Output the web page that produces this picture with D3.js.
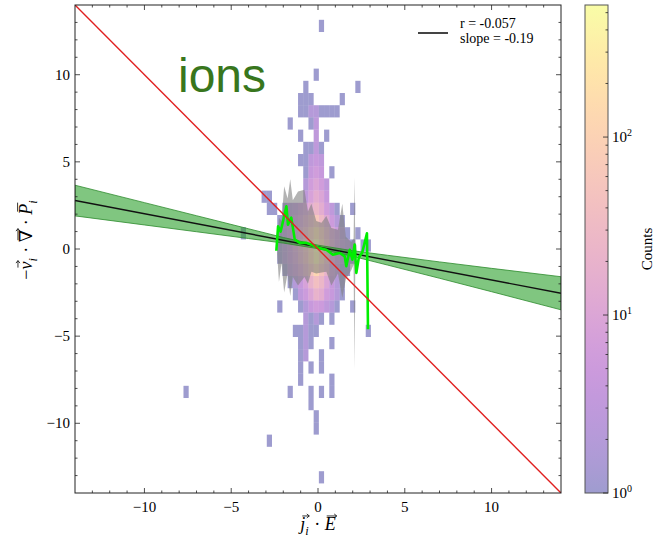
<!DOCTYPE html>
<html>
<head>
<meta charset="utf-8">
<script src="https://cdn.jsdelivr.net/npm/d3@7"></script>
<style>
body { margin: 0; background: #fff; }
text { font-family: "Liberation Serif", "DejaVu Serif", serif; }
</style>
</head>
<body>
<div id="chart"></div>
<script>
// 2d histogram cells, [x centre, y centre, count]
const histCells = [
  [0.2, 12.8, 1], [-0.1, 10.0, 1], [-0.7, 9.3, 1], [2.3, 9.3, 1],
  [-1.0, 8.6, 1], [-0.7, 8.6, 1], [-0.4, 8.6, 1], [1.4, 8.6, 1],
  [-1.0, 7.9, 1], [-0.7, 7.9, 1], [-0.4, 7.9, 2], [-0.1, 7.9, 2], [0.2, 7.9, 1], [0.5, 7.9, 1], [0.8, 7.9, 1], [1.1, 7.9, 1],
  [-1.6, 7.2, 1], [-0.4, 7.2, 1], [-0.1, 7.2, 3],
  [-1.0, 6.5, 1], [-0.1, 6.5, 3], [0.5, 6.5, 1],
  [-0.7, 5.8, 1], [-0.4, 5.8, 1], [-0.1, 5.8, 3], [0.2, 5.8, 1],
  [-1.0, 5.1, 1], [-0.7, 5.1, 1], [-0.4, 5.1, 3], [-0.1, 5.1, 4], [0.2, 5.1, 3],
  [-0.7, 4.4, 1], [-0.4, 4.4, 4], [-0.1, 4.4, 6], [0.2, 4.4, 4], [0.8, 4.4, 1],
  [-0.7, 3.7, 2], [-0.4, 3.7, 6], [-0.1, 3.7, 10], [0.2, 3.7, 6], [0.5, 3.7, 3],
  [-3.1, 3.0, 1], [-2.8, 3.0, 1], [-0.7, 3.0, 3], [-0.4, 3.0, 8], [-0.1, 3.0, 15], [0.2, 3.0, 10], [0.5, 3.0, 4],
  [-2.8, 2.3, 1], [-2.5, 2.3, 1], [-1.9, 2.3, 1], [-1.6, 2.3, 2], [-1.3, 2.3, 3], [-1.0, 2.3, 5], [-0.7, 2.3, 8], [-0.4, 2.3, 15],
  [-0.1, 2.3, 25], [0.2, 2.3, 15], [0.5, 2.3, 6], [0.8, 2.3, 3], [1.1, 2.3, 1], [2.0, 2.3, 1],
  [-2.2, 1.6, 1], [-1.9, 1.6, 2], [-1.6, 1.6, 3], [-1.3, 1.6, 5], [-1.0, 1.6, 8], [-0.7, 1.6, 15], [-0.4, 1.6, 30],
  [-0.1, 1.6, 60], [0.2, 1.6, 30], [0.5, 1.6, 12], [0.8, 1.6, 5], [1.1, 1.6, 2], [1.4, 1.6, 1],
  [-4.3, 0.9, 1], [-2.2, 0.9, 1], [-1.9, 0.9, 2], [-1.6, 0.9, 4], [-1.3, 0.9, 8], [-1.0, 0.9, 15], [-0.7, 0.9, 30], [-0.4, 0.9, 80],
  [-0.1, 0.9, 200], [0.2, 0.9, 80], [0.5, 0.9, 25], [0.8, 0.9, 10], [1.1, 0.9, 5], [1.4, 0.9, 2], [1.7, 0.9, 1], [2.3, 0.9, 1],
  [-2.2, 0.2, 1], [-1.9, 0.2, 2], [-1.6, 0.2, 4], [-1.3, 0.2, 10], [-1.0, 0.2, 20], [-0.7, 0.2, 50], [-0.4, 0.2, 150],
  [-0.1, 0.2, 550], [0.2, 0.2, 150], [0.5, 0.2, 40], [0.8, 0.2, 12], [1.1, 0.2, 5], [1.4, 0.2, 3], [1.7, 0.2, 2],
  [2.0, 0.2, 1], [2.6, 0.2, 1], [2.9, 0.2, 1],
  [-2.2, -0.5, 1], [-1.9, -0.5, 2], [-1.6, -0.5, 4], [-1.3, -0.5, 8], [-1.0, -0.5, 18], [-0.7, -0.5, 40], [-0.4, -0.5, 120],
  [-0.1, -0.5, 400], [0.2, -0.5, 120], [0.5, -0.5, 35], [0.8, -0.5, 10], [1.1, -0.5, 4], [1.4, -0.5, 2], [1.7, -0.5, 1], [2.0, -0.5, 1],
  [-1.9, -1.2, 1], [-1.6, -1.2, 3], [-1.3, -1.2, 5], [-1.0, -1.2, 10], [-0.7, -1.2, 20], [-0.4, -1.2, 50],
  [-0.1, -1.2, 120], [0.2, -1.2, 50], [0.5, -1.2, 20], [0.8, -1.2, 6], [1.1, -1.2, 3], [1.4, -1.2, 1], [1.7, -1.2, 1],
  [-1.6, -1.9, 1], [-1.3, -1.9, 2], [-1.0, -1.9, 4], [-0.7, -1.9, 8], [-0.4, -1.9, 20], [-0.1, -1.9, 40],
  [0.2, -1.9, 25], [0.5, -1.9, 10], [0.8, -1.9, 4], [1.1, -1.9, 2], [1.4, -1.9, 1],
  [-1.3, -2.6, 1], [-1.0, -2.6, 3], [-0.7, -2.6, 5], [-0.4, -2.6, 10], [-0.1, -2.6, 20], [0.2, -2.6, 15],
  [0.5, -2.6, 6], [0.8, -2.6, 4], [1.1, -2.6, 2], [1.4, -2.6, 1],
  [-2.2, -3.3, 1], [-1.0, -3.3, 1], [-0.7, -3.3, 2], [-0.4, -3.3, 4], [-0.1, -3.3, 6], [0.2, -3.3, 5], [0.5, -3.3, 3],
  [0.8, -3.3, 2], [1.1, -3.3, 1], [2.0, -3.3, 1],
  [-0.7, -4.0, 2], [-0.4, -4.0, 1], [-0.1, -4.0, 2], [0.2, -4.0, 1], [0.8, -4.0, 1],
  [-1.3, -4.7, 1], [-1.0, -4.7, 1], [-0.7, -4.7, 2], [-0.4, -4.7, 1], [-0.1, -4.7, 1], [2.9, -4.7, 1],
  [-1.0, -5.4, 1], [-0.7, -5.4, 2], [-0.4, -5.4, 1], [0.8, -5.4, 1],
  [-1.0, -6.1, 1], [-0.7, -6.1, 2], [0.2, -6.1, 1],
  [-1.0, -6.8, 1], [-0.4, -6.8, 1], [0.2, -6.8, 1],
  [-1.0, -7.5, 1], [0.8, -7.5, 1],
  [-7.6, -8.2, 1], [-1.6, -8.2, 1], [-0.4, -8.2, 1], [0.2, -8.2, 1], [0.8, -8.2, 1],
  [-0.4, -8.9, 1], [-0.1, -9.6, 1], [-0.1, -10.3, 1],
  [-2.8, -11.0, 1], [0.2, -13.1, 1]
];
const binW = 0.3, binH = 0.7;
const countMax = 552;

// binned spread (grey) and binned mean (lime)
const spreadX  = [-2.35, -2.25, -2.1, -1.95, -1.75, -1.6, -1.45, -1.15, -0.78, -0.58, -0.38, -0.1, 0.2, 0.48, 0.77, 1.15, 1.4, 1.6, 1.92, 2.05, 2.1, 2.15, 2.22];
const spreadLo = [-0.3, -1.9, -0.8, -2.5, -1.4, -2.7, -1.6, -2.1, -1.6, -2.0, -1.3, -1.4, -1.35, -1.3, -2.1, -1.4, -2.8, -1.75, -1.2, -0.9, -6.9, -0.8, -0.5];
const spreadHi = [0.4, 1.8, 1.6, 3.6, 2.9, 4.0, 2.8, 3.3, 3.4, 2.15, 2.6, 1.6, 1.5, 1.9, 1.2, 1.1, 2.6, 0.7, 0.4, 0.6, 4.1, 0.4, 0.2];

const meanX = [-2.40, -2.30, -2.15, -1.82, -1.73, -1.54, -1.34, -1.05, -0.67, -0.29, 0.1, 0.48, 0.86, 1.25, 1.54, 1.63, 1.83, 1.98, 2.11, 2.21, 2.35, 2.55, 2.82, 2.88];
const meanY = [-0.1, 1.3, 1.0, 2.45, 1.4, 1.8, 0.55, 0.35, 0.35, 0.2, 0.05, -0.04, -0.33, -0.23, -0.42, -0.99, -0.04, -0.61, 0.25, -1.37, -0.5, -0.2, 0.9, -4.6];

// fit and its confidence band
const bandX  = [-14, -10, -7, -4, -2, 0, 2, 4, 7, 10, 14];
const bandLo = [1.90, 1.38, 0.99, 0.60, 0.34, 0.02, -0.42, -0.92, -1.68, -2.45, -3.49];
const bandHi = [3.66, 2.66, 1.91, 1.16, 0.66, 0.22, -0.10, -0.36, -0.74, -1.11, -1.59];
const fitX = [-14, 14];
const fitY = [2.78, -2.54];
const oneToOneY = [14, -14];

const legendLines = ["r = -0.057", "slope = -0.19"];
const cbarTicks = [1, 10, 100];

const W = 654, H = 543;
const svg = d3.select("#chart").append("svg")
  .attr("width", W).attr("height", H);

const x = d3.scaleLinear().domain([-14, 14]).range([75, 561]);
const y = d3.scaleLinear().domain([-14, 14]).range([493, 5]);

svg.append("clipPath").attr("id", "plotclip")
  .append("rect").attr("x", 75).attr("y", 5).attr("width", 486).attr("height", 488);

const plot = svg.append("g").attr("clip-path", "url(#plotclip)");

const cLog = d3.scaleLog().domain([1, countMax]).range([0, 1]);
const cellColor = c => d3.interpolatePlasma(cLog(c));

// histogram
plot.selectAll("rect.cell")
  .data(histCells)
  .enter().append("rect")
  .attr("class", "cell")
  .attr("x", d => x(d[0] - binW / 2))
  .attr("y", d => y(d[1] + binH / 2))
  .attr("width", x(binW) - x(0))
  .attr("height", y(0) - y(binH))
  .attr("fill", d => cellColor(d[2]))
  .attr("fill-opacity", 0.4);

// grey spread
const spread = spreadX.map((v, i) => [v, spreadLo[i], spreadHi[i]]);
plot.append("path")
  .datum(spread)
  .attr("d", d3.area().x(d => x(d[0])).y0(d => y(d[1])).y1(d => y(d[2])))
  .attr("fill", "#808080")
  .attr("fill-opacity", 0.6);

// confidence band
const band = bandX.map((v, i) => [v, bandLo[i], bandHi[i]]);
plot.append("path")
  .datum(band)
  .attr("d", d3.area().x(d => x(d[0])).y0(d => y(d[1])).y1(d => y(d[2])))
  .attr("fill", "#2ca02c")
  .attr("fill-opacity", 0.6)
  .attr("stroke", "#2c8a2c")
  .attr("stroke-width", 0.8);

// fit line
plot.append("line")
  .attr("x1", x(fitX[0])).attr("y1", y(fitY[0]))
  .attr("x2", x(fitX[1])).attr("y2", y(fitY[1]))
  .attr("stroke", "#111").attr("stroke-width", 1.4);

// binned mean
plot.append("path")
  .datum(meanX.map((v, i) => [v, meanY[i]]))
  .attr("d", d3.line().x(d => x(d[0])).y(d => y(d[1])))
  .attr("fill", "none")
  .attr("stroke", "#00ee00")
  .attr("stroke-width", 2.6)
  .attr("stroke-linejoin", "round");

// 1:1 line
plot.append("line")
  .attr("x1", x(fitX[0])).attr("y1", y(oneToOneY[0]))
  .attr("x2", x(fitX[1])).attr("y2", y(oneToOneY[1]))
  .attr("stroke", "#e02020").attr("stroke-width", 1.4);

// frame and ticks, inward on all sides
const majors = [-10, -5, 0, 5, 10];
const minors = d3.range(-13, 14).filter(v => v % 5 !== 0);
const axisG = svg.append("g").attr("stroke", "#222").attr("stroke-width", 0.8);
majors.concat(minors).forEach(v => {
  const len = v % 5 === 0 ? 5 : 2.5;
  axisG.append("line").attr("x1", x(v)).attr("x2", x(v)).attr("y1", 493).attr("y2", 493 - len);
  axisG.append("line").attr("x1", x(v)).attr("x2", x(v)).attr("y1", 5).attr("y2", 5 + len);
  axisG.append("line").attr("y1", y(v)).attr("y2", y(v)).attr("x1", 75).attr("x2", 75 + len);
  axisG.append("line").attr("y1", y(v)).attr("y2", y(v)).attr("x1", 561).attr("x2", 561 - len);
});
svg.append("rect").attr("x", 75).attr("y", 5).attr("width", 486).attr("height", 488)
  .attr("fill", "none").attr("stroke", "#222").attr("stroke-width", 1);

const fmt = v => (v < 0 ? "\u2212" + Math.abs(v) : "" + v);
svg.selectAll("text.xt").data(majors).enter().append("text")
  .attr("x", d => x(d)).attr("y", 512)
  .attr("text-anchor", "middle").attr("font-size", 15).text(fmt);
svg.selectAll("text.yt").data(majors).enter().append("text")
  .attr("x", 70).attr("y", d => y(d) + 5)
  .attr("text-anchor", "end").attr("font-size", 15).text(fmt);

// small math label: pieces laid out one after another, arrows / bars drawn on top
function mathLabel(g, parts, size) {
  let cx = 0;
  parts.forEach(p => {
    const fs = p.sub ? size * 0.68 : size;
    const t = g.append("text").attr("x", cx).attr("y", p.sub ? size * 0.25 : 0)
      .attr("font-size", fs).attr("font-style", p.italic ? "italic" : "normal").text(p.t);
    const w = t.node().getComputedTextLength();
    if (p.vec) {
      const x0 = cx + 2, x1 = cx + Math.max(w, 8) + 1, yy = -size * 0.78;
      g.append("path")
        .attr("d", `M${x0},${yy}H${x1}M${x1 - 2.5},${yy - 2}L${x1},${yy}L${x1 - 2.5},${yy + 2}`)
        .attr("fill", "none").attr("stroke", "#000").attr("stroke-width", 0.8);
    }
    if (p.bar) {
      const yy = -size * 0.8;
      g.append("line").attr("x1", cx + 3).attr("x2", cx + w + 1).attr("y1", yy).attr("y2", yy)
        .attr("stroke", "#000").attr("stroke-width", 0.8);
    }
    cx += w + (p.gap || 0);
  });
  g.selectAll("*").attr("transform", `translate(${-cx / 2},0)`);
}

const dot = "\u00A0\u00B7\u00A0";
const xl = svg.append("g").attr("transform", "translate(318,530)");
mathLabel(xl, [
  {t: "j", italic: true, vec: true},
  {t: "i", italic: true, sub: true, gap: 1},
  {t: dot},
  {t: "E", italic: true, vec: true}
], 18);

const yl = svg.append("g").attr("transform", "translate(32,240) rotate(-90)");
mathLabel(yl, [
  {t: "\u2212"},
  {t: "v", italic: true, vec: true},
  {t: "i", italic: true, sub: true, gap: 1},
  {t: dot},
  {t: "\u2207", vec: true},
  {t: dot},
  {t: "P", italic: true, bar: true},
  {t: "i", italic: true, sub: true}
], 18);

// species label
svg.append("text").attr("x", 178).attr("y", 92)
  .style("font-family", "'Liberation Sans', Arial, sans-serif")
  .attr("font-size", 48).attr("fill", "#38761d").text("ions");

// legend
svg.append("line").attr("x1", 418).attr("x2", 448).attr("y1", 33).attr("y2", 33)
  .attr("stroke", "#444").attr("stroke-width", 2);
svg.selectAll("text.leg").data(legendLines).enter().append("text")
  .attr("x", 460).attr("y", (d, i) => 28 + i * 15)
  .attr("font-size", 14).text(d => d);

// colorbar
const cbY = d3.scaleLog().domain([1, countMax]).range([493, 5]);
const grad = svg.append("defs").append("linearGradient").attr("id", "cbgrad")
  .attr("x1", 0).attr("y1", 1).attr("x2", 0).attr("y2", 0);
d3.range(0, 1.0001, 0.05).forEach(t => {
  grad.append("stop").attr("offset", t).attr("stop-color", d3.interpolatePlasma(t)).attr("stop-opacity", 0.4);
});
svg.append("rect").attr("x", 585).attr("y", 5).attr("width", 23).attr("height", 488)
  .attr("fill", "url(#cbgrad)").attr("stroke", "#555").attr("stroke-width", 1);

const cbMinor = [];
[1, 10, 100].forEach(dec => d3.range(2, 10).forEach(k => { if (dec * k <= countMax) cbMinor.push(dec * k); }));
svg.selectAll("line.cbm").data(cbMinor).enter().append("line")
  .attr("x1", 608).attr("x2", 605.5).attr("y1", d => cbY(d)).attr("y2", d => cbY(d))
  .attr("stroke", "#222").attr("stroke-width", 0.8);
svg.selectAll("line.cbt").data(cbarTicks).enter().append("line")
  .attr("x1", 608).attr("x2", 603).attr("y1", d => cbY(d)).attr("y2", d => cbY(d))
  .attr("stroke", "#222").attr("stroke-width", 0.8);
const cbl = svg.selectAll("text.cbl").data(cbarTicks).enter().append("text")
  .attr("x", 612).attr("y", d => cbY(d) + 5).attr("font-size", 15);
cbl.append("tspan").text("10");
cbl.append("tspan").attr("font-size", 10).attr("dy", -6).text(d => Math.round(Math.log10(d)));

svg.append("text").attr("transform", "translate(652,249) rotate(-90)")
  .attr("text-anchor", "middle").attr("font-size", 15).text("Counts");
</script>
</body>
</html>
